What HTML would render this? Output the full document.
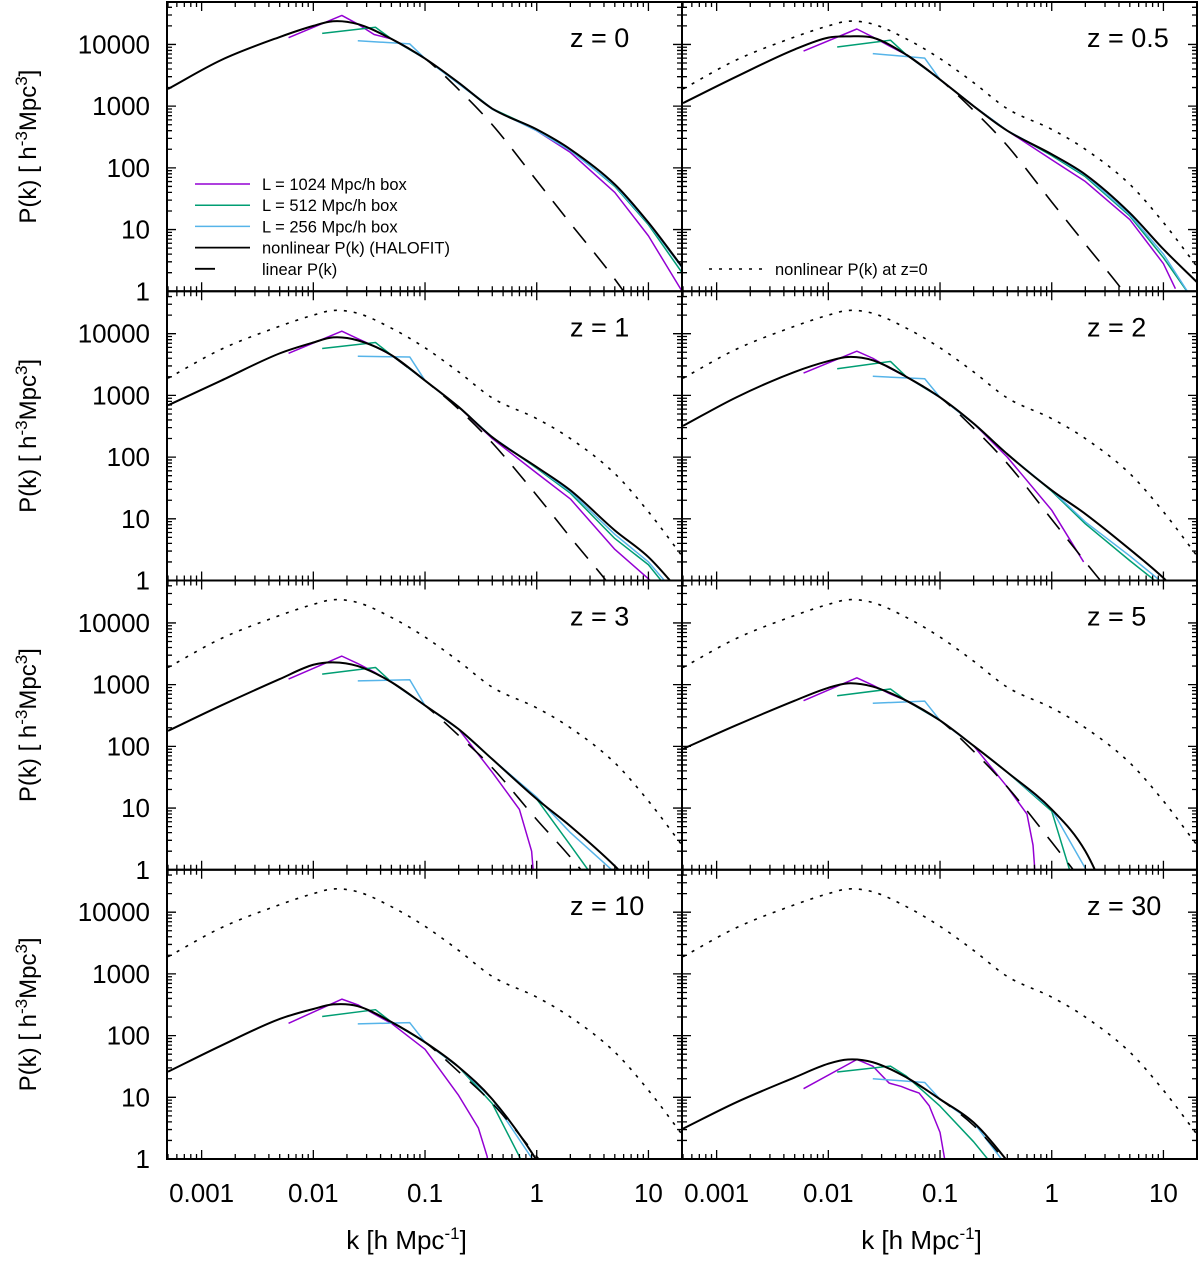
<!DOCTYPE html>
<html><head><meta charset="utf-8"><style>
html,body{margin:0;padding:0;background:#fff;overflow:hidden;width:1200px;height:1264px;}
svg{display:block;overflow:hidden;font-family:"Liberation Sans",Arial,sans-serif;}
</style></head><body>
<svg id="chart" width="1200" height="1264" viewBox="0 0 1200 1264" xmlns="http://www.w3.org/2000/svg"></svg>
<script>
const panelZ = ['0','0.5','1','2','3','5','10','30'];
const halofitK = [0.0005,0.0015,0.005,0.01,0.015,0.025,0.05,0.1,0.2,0.4,1,2,5,10,20];
const halofitP = [
 [1900,5600,13200,20000,23800,21400,12300,5900,2400,910,420,200,54,13,2.5],
 [1120,3000,8300,12900,13500,12900,6800,2700,1000,400,166,78,18.6,4.8,1.4],
 [690,1740,4800,7200,8700,7800,4500,1740,650,210,69,29,6.5,2.4,0.6],
 [320,930,2400,3600,4200,3700,2000,930,350,112,29,12,3.2,1.1,0.3],
 [178,460,1230,2100,2300,2000,1100,460,190,62,14,5.1,1.15,0.3,0.1],
 [91,220,550,890,1050,930,550,263,102,38,9.5,2.0,0.05,0.005,0.0005],
 [26,69,186,270,320,300,166,78,31,9.3,0.95,0.1,0.01,0.001,0.0001],
 [3.1,8.3,21,35,41,37,21,9.3,3.9,0.93,0.1,0.01,0.001,0.0001,0.00001]
];
const linearK = [0.05,0.1,0.2,0.4,1,2,5,10,20];
const linearP = [
 [12300,5900,1860,500,62,12.6,1.57,0.25,0.03],
 [6800,2700,850,229,28,5.8,0.72,0.11,0.014],
 [4500,1740,600,170,24,5,0.65,0.1,0.012],
 [2000,930,294,79,9.8,2.0,0.25,0.04,0.005],
 [1100,460,150,45,6.5,1.6,0.2,0.03,0.003],
 [550,263,83,22,2.8,0.56,0.07,0.01,0.001],
 [166,78,26,8,1.1,0.2,0.03,0.005,0.001],
 [21,9.3,3.5,0.85,0.1,0.02,0.002,0.0003,0.00005]
];
const purpleK = [
 [0.006,0.018,0.025,0.035,0.05,0.1,0.2,0.4,1,2,5,10,20],
 [0.006,0.018,0.025,0.035,0.05,0.1,0.2,0.4,1,2,5,10,12.8],
 [0.006,0.018,0.025,0.035,0.05,0.1,0.2,0.4,1,2,5,10.4],
 [0.006,0.018,0.025,0.035,0.05,0.1,0.2,0.4,1,1.93],
 [0.006,0.018,0.025,0.035,0.05,0.1,0.2,0.4,0.7,0.9,0.95],
 [0.006,0.018,0.025,0.035,0.05,0.1,0.2,0.4,0.6,0.68,0.72],
 [0.006,0.018,0.025,0.035,0.05,0.1,0.2,0.3,0.36,0.38],
 [0.006,0.018,0.025,0.035,0.045,0.055,0.065,0.08,0.1,0.11,0.115]
];
const purpleP = [
 [12900,29500,21400,14500,12300,5900,2400,910,400,178,40,7.9,1.0],
 [7800,17800,13200,9500,6800,2700,1000,400,135,60,14.5,2.8,1.1],
 [4800,11000,8300,6300,4500,1740,650,200,55,21,3.2,1.0],
 [2300,5200,4000,2800,2000,930,350,100,13.8,2.0],
 [1230,2900,2200,1600,1100,460,190,38,9.5,2.0,0.6],
 [550,1290,980,720,550,263,102,22,8,2.5,0.6],
 [158,390,316,224,158,60,10.7,3.2,1.1,0.5],
 [13.8,41,32,17,15,13,11.7,7.3,2.7,1.0,0.5]
];
const greenK = [
 [0.012,0.036,0.05,0.1,0.2,0.4,1,2,5,10,20],
 [0.012,0.036,0.05,0.1,0.2,0.4,1,2,5,10,16.9],
 [0.012,0.036,0.05,0.1,0.2,0.4,1,2,5,10,13.6],
 [0.012,0.036,0.05,0.1,0.2,0.4,1,2,5,9],
 [0.012,0.036,0.05,0.1,0.2,0.4,1,2,3],
 [0.012,0.036,0.05,0.1,0.2,0.4,1,1.47],
 [0.012,0.036,0.05,0.1,0.2,0.4,0.74],
 [0.012,0.036,0.05,0.1,0.2,0.28]
];
const greenP = [
 [15100,19000,12300,5900,2400,910,420,200,50,12,2.0],
 [9100,11700,6800,2700,1000,400,158,72,16.6,3.5,0.9],
 [5750,7200,4500,1740,650,210,66,26,4.8,1.8,0.9],
 [2700,3550,2000,930,350,112,28,8.3,2.1,0.9],
 [1480,1900,1100,460,190,62,14,2.5,0.9],
 [660,850,550,263,102,38,8.9,0.9],
 [204,263,166,78,31,7.9,0.9],
 [25.7,32,22,7.2,1.9,0.9]
];
const blueK = [
 [0.025,0.073,0.1,0.2,0.4,1,2,5,10,20],
 [0.025,0.073,0.1,0.2,0.4,1,2,5,10,17],
 [0.025,0.073,0.1,0.2,0.4,1,2,5,10,14.6],
 [0.025,0.073,0.1,0.2,0.4,1,2,5,10],
 [0.025,0.073,0.1,0.2,0.4,1,2,5],
 [0.025,0.073,0.1,0.2,0.4,1,2.1],
 [0.025,0.073,0.1,0.2,0.4,0.95],
 [0.025,0.073,0.1,0.2,0.37]
];
const blueP = [
 [11500,10200,5900,2300,890,400,190,52,12.6,2.4],
 [7100,6000,2700,1000,400,166,76,17.4,4.0,0.9],
 [4300,4200,1740,650,210,68,27.5,5.6,2.0,0.9],
 [2040,1860,930,350,112,29,8.9,2.5,0.9],
 [1150,1200,460,190,62,15,4.0,0.9],
 [500,540,263,102,38,9.5,0.9],
 [155,162,78,31,9.3,0.9],
 [20,17.4,9.3,3.9,0.9]
];
const yTickLabels = ['1','10','100','1000','10000'];
const xTickLabels = ['0.001','0.01','0.1','1','10'];

const NS='http://www.w3.org/2000/svg';
const svg=document.getElementById('chart');
const COLX=[167,682], PW=515, DEC_X=111.7, LK0=-3.31;
const ROW0=2, PH=289.25, DEC_Y=61.7;
function mk(tag,attrs,parent){const e=document.createElementNS(NS,tag);for(const k in attrs)e.setAttribute(k,attrs[k]);(parent||svg).appendChild(e);return e;}
function xS(k,col){return COLX[col]+(Math.log10(k)-LK0)*DEC_X;}
function yS(P,row){return ROW0+(row+1)*PH-Math.log10(P)*DEC_Y;}
function linePath(pts){return pts.map((p,i)=>(i?'L':'M')+p[0].toFixed(2)+','+p[1].toFixed(2)).join('');}
function smoothPath(pts){
 const n=pts.length,m=[],t=[];
 for(let i=0;i<n-1;i++)m.push((pts[i+1][1]-pts[i][1])/(pts[i+1][0]-pts[i][0]));
 for(let i=0;i<n;i++){if(i===0)t.push(m[0]);else if(i===n-1)t.push(m[n-2]);else t.push((m[i-1]+m[i])/2);}
 let d='M'+pts[0][0].toFixed(2)+','+pts[0][1].toFixed(2);
 for(let i=0;i<n-1;i++){const dx=(pts[i+1][0]-pts[i][0])/3;
  d+='C'+(pts[i][0]+dx).toFixed(2)+','+(pts[i][1]+t[i]*dx).toFixed(2)+' '+(pts[i+1][0]-dx).toFixed(2)+','+(pts[i+1][1]-t[i+1]*dx).toFixed(2)+' '+pts[i+1][0].toFixed(2)+','+pts[i+1][1].toFixed(2);}
 return d;}

const defs=mk('defs',{});
for(let i=0;i<8;i++){
 const col=i%2,row=Math.floor(i/2);
 const x0=COLX[col],y0=ROW0+row*PH,y1=y0+PH,x1=x0+PW;
 const cp=mk('clipPath',{id:'clip'+i},defs);
 mk('rect',{x:x0,y:y0,width:PW,height:PH},cp);
 const g=mk('g',{});
 
 
 const cg=mk('g',{'clip-path':'url(#clip'+i+')'},g);
 const P=(K,V)=>K.map((k,j)=>[xS(k,col),yS(V[j],row)]);
 if(i>0){const r=mk('path',{d:smoothPath(P(halofitK,halofitP[0])),fill:'none',stroke:'#000','stroke-width':1.6,'stroke-dasharray':'3,7'},cg);
  
  }
 const pu=mk('path',{d:linePath(P(purpleK[i],purpleP[i])),fill:'none',stroke:'#9400d3','stroke-width':1.5,'stroke-linejoin':'round'},cg);
 
 
 const gr=mk('path',{d:linePath(P(greenK[i],greenP[i])),fill:'none',stroke:'#009e73','stroke-width':1.5,'stroke-linejoin':'round'},cg);
 
 
 const bl=mk('path',{d:linePath(P(blueK[i],blueP[i])),fill:'none',stroke:'#56b4e9','stroke-width':1.5,'stroke-linejoin':'round'},cg);
 
 
 const lin=mk('path',{d:smoothPath(P(linearK,linearP[i])),fill:'none',stroke:'#000','stroke-width':1.6,'stroke-dasharray':'20,13'},cg);
 
 
 const hf=mk('path',{d:smoothPath(P(halofitK,halofitP[i])),fill:'none',stroke:'#000','stroke-width':2},cg);
 
 
 let td='';
 for(let d=-4;d<=1;d++)for(let m=1;m<=9;m++){const k=m*Math.pow(10,d);const x=xS(k,col);if(x<x0+0.5||x>x1-0.5)continue;const L=m===1?9:5;td+=`M${x},${y1}v${-L}M${x},${y0}v${L}`;}
 for(let d=0;d<=4;d++)for(let m=1;m<=9;m++){const v=m*Math.pow(10,d);const y=yS(v,row);if(y<y0+0.5||y>y1-0.5)continue;const L=m===1?9:5;td+=`M${x0},${y}h${L}M${x1},${y}h${-L}`;}
 const tk=mk('path',{d:td,stroke:'#000','stroke-width':1.3,fill:'none'},g);
 
 
 const fr=mk('rect',{x:x0,y:y0,width:PW,height:PH,fill:'none',stroke:'#000','stroke-width':2},g);
 
 
 const zl=mk('text',{x:col?1087:570,y:y0+45,'font-size':27,fill:'#000'},g);
 zl.textContent='z = '+panelZ[i];
 
 
 if(col===0){
  yTickLabels.forEach(t=>{const tl=mk('text',{x:150,y:yS(+t,row)+9,'font-size':26,'text-anchor':'end'},svg);tl.textContent=t;
   
   });
  const yc=y0+PH/2;
  const yt=mk('text',{x:0,y:0,'font-size':24,'text-anchor':'middle',transform:`translate(36,${yc}) rotate(-90)`},svg);
  yt.innerHTML='P(k) [ h<tspan dy="-9" font-size="17">-3</tspan><tspan dy="9">Mpc</tspan><tspan dy="-9" font-size="17">3</tspan><tspan dy="9">]</tspan>';
  
  
 }
 if(row===3){
  xTickLabels.forEach(t=>{const tl=mk('text',{x:xS(+t,col),y:1202,'font-size':26,'text-anchor':'middle'},svg);tl.textContent=t;
   
   });
  const xt=mk('text',{x:x0+PW/2-18,y:1249,'font-size':26,'text-anchor':'middle'},svg);
  xt.innerHTML='k [h Mpc<tspan dy="-10" font-size="17">-1</tspan><tspan dy="10">]</tspan>';
  
  
 }
}
const leg=mk('g',{});


const legItems=[['L = 1024 Mpc/h box','#9400d3',''],['L = 512 Mpc/h box','#009e73',''],['L = 256 Mpc/h box','#56b4e9',''],['nonlinear P(k) (HALOFIT)','#000',''],['linear P(k)','#000','20,35']];
legItems.forEach((it,j)=>{const y=184+j*21.2;
 const ln=mk('line',{x1:195,x2:250,y1:y,y2:y,stroke:it[1],'stroke-width':it[1]==='#000'?1.8:1.5,'stroke-dasharray':it[2]},leg);
 
 
 const t=mk('text',{x:262,y:y+6,'font-size':16.5},leg);t.textContent=it[0];
 
 });
const l2=mk('line',{x1:709,x2:766,y1:269,y2:269,stroke:'#000','stroke-width':1.6,'stroke-dasharray':'3,7'},leg);


const t2=mk('text',{x:775,y:275,'font-size':16.5},leg);t2.textContent='nonlinear P(k) at z=0';


</script>
</body></html>
